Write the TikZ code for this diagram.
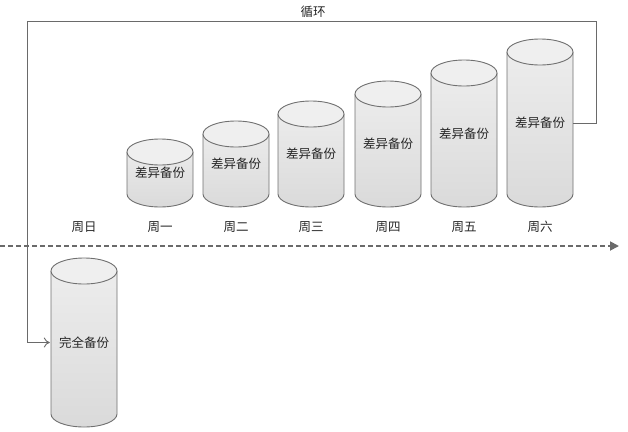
\documentclass[tikz,border=0pt]{standalone}
\usepackage{fontspec}
\setmainfont{Noto Sans CJK SC}
\usetikzlibrary{arrows.meta}
\definecolor{edgegray}{HTML}{707070}
\definecolor{linegray}{HTML}{6A6A6A}
\definecolor{capfill}{HTML}{EFEFEF}
\definecolor{bodytop}{HTML}{EEEEEE}
\definecolor{bodybot}{HTML}{DADADA}
\newcommand{\drawcyl}[5]{%
  % #1 name, #2 cx, #3 top, #4 bottom, #5 text
  \pgfmathsetmacro{\cl}{#2-33}\pgfmathsetmacro{\cr}{#2+33}
  \pgfmathsetmacro{\ct}{-(#3)-13}\pgfmathsetmacro{\cb}{-(#4)+13}
  \pgfmathsetmacro{\cm}{-((#3)+(#4))/2}
  \pgfmathsetmacro{\ch}{(#4)-(#3)}
  \path[cylbody] (\cl,\ct) -- (\cl,\cb) arc[start angle=180,end angle=360,x radius=33,y radius=13] -- (\cr,\ct) arc[start angle=0,end angle=180,x radius=33,y radius=13] -- cycle;
  \draw[cyledge] (\cl,\ct) -- (\cl,\cb) arc[start angle=180,end angle=360,x radius=33,y radius=13] -- (\cr,\ct);
  \draw[cyledge,fill=capfill] (#2,\ct) ellipse[x radius=33,y radius=13];
  \node[cylnode,minimum height=\ch pt] (#1) at (#2,\cm) {#5};
}
\tikzset{
  cylbody/.style={top color=bodytop,bottom color=bodybot},
  cyledge/.style={draw=edgegray,line width=0.9pt},
  cylnode/.style={inner sep=0pt,minimum width=66pt,font=\fontsize{12.5pt}{14pt}\selectfont,text=black!85},
  daylabel/.style={font=\fontsize{12.5pt}{14pt}\selectfont,text=black!85,inner sep=1pt},
  loopline/.style={draw=linegray,line width=0.9pt},
  timeline/.style={draw=linegray,line width=1.8pt,dash pattern=on 5pt off 3pt,-{Triangle[length=9pt,width=9pt]}},
}
\begin{document}
\begin{tikzpicture}[x=1pt,y=1pt]
\useasboundingbox (0,0) rectangle (628,-431);
% diff cylinders
\drawcyl{c1}{160}{139}{207}{差异备份}
\drawcyl{c2}{236}{121}{207}{差异备份}
\drawcyl{c3}{311}{101}{207}{差异备份}
\drawcyl{c4}{388}{81}{207}{差异备份}
\drawcyl{c5}{464}{60}{207}{差异备份}
\drawcyl{c6}{540}{39}{207}{差异备份}
% full backup
\drawcyl{full}{84}{258}{427}{完全备份}
% day labels
\node[daylabel] (d0) at (84,-227) {周日};
\node[daylabel] (d1) at (160,-227) {周一};
\node[daylabel] (d2) at (236,-227) {周二};
\node[daylabel] (d3) at (311,-227) {周三};
\node[daylabel] (d4) at (388,-227) {周四};
\node[daylabel] (d5) at (464,-227) {周五};
\node[daylabel] (d6) at (540,-227) {周六};
% timeline
\coordinate (tl0) at (0,-246);
\coordinate (tl1) at (619,-246);
\draw[timeline] (tl0) -- (tl1);
% loop connector
\coordinate (lr) at (596,-21);
\coordinate (ll) at (27,-21);
\draw[loopline,-{To[length=6pt,width=10pt]}] (c6.east) -| (lr) -- (ll) |- ([xshift=-1pt]full.west);
\node[daylabel] (looplabel) at (313,-12) {循环};
\end{tikzpicture}
\end{document}
